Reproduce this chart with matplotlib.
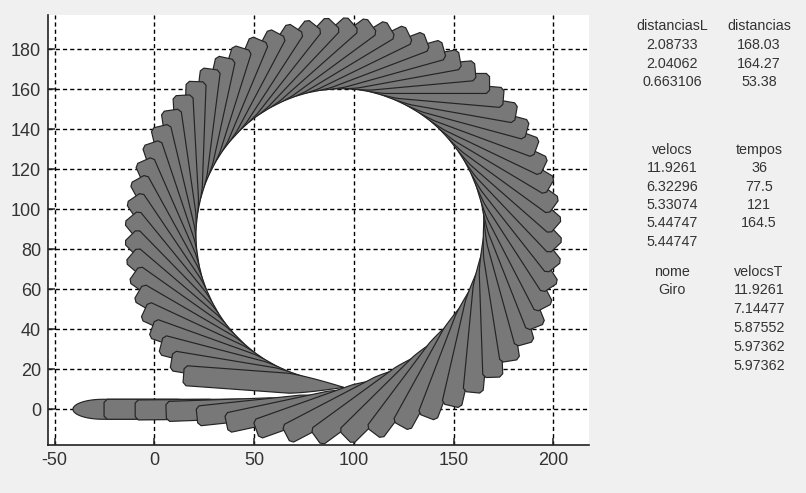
import numpy as np
import matplotlib
matplotlib.use("Agg")
import matplotlib.pyplot as plt
from matplotlib.patches import Polygon
from matplotlib.transforms import Affine2D

plt.rcParams["axes.unicode_minus"] = False

# ---- data: ship midship position and heading for each frame of the turn ----
frame_x = [-0.55, 15.05, 30.65, 46.15, 61.4, 75.5, 89.0, 101.8, 113.6, 124.6,
           134.4, 143.3, 151.2, 158.0, 163.6, 168.3, 172.0, 175.0, 176.6, 177.0,
           176.7, 175.6, 173.7, 171.1, 167.8, 163.8, 159.1, 153.8, 148.0, 141.7,
           134.9, 127.8, 120.8, 113.6, 106.3, 98.8, 91.3, 83.9, 76.5, 69.2,
           62.2, 55.4, 49.0, 42.9, 37.2, 32.0, 27.2, 23.1, 19.5, 16.5,
           14.1, 12.4, 11.4, 11.0, 11.3, 12.3, 13.9, 16.2, 19.1, 22.7,
           26.8, 31.5, 36.7, 42.3, 48.3, 54.8]
frame_y = [0, 0, 0, 0.3, 0.8, 1.5, 3.3, 5.9, 9.5, 14.2,
           20.2, 26.8, 33.6, 40.9, 48.5, 56.2, 63.9, 71.4, 78.5, 86.5,
           94.5, 102.4, 110.2, 117.7, 125.0, 132.0, 138.5, 144.5, 150.0, 154.9,
           159.2, 162.8, 165.6, 167.7, 169.1, 169.9, 170.0, 169.4, 168.1, 166.2,
           163.7, 160.5, 156.7, 152.4, 147.5, 142.1, 136.3, 130.1, 123.5, 116.7,
           109.6, 102.3, 94.9, 87.4, 79.9, 72.5, 65.2, 58.0, 51.2, 44.6,
           38.3, 32.4, 27.0, 22.1, 17.7, 13.9]
frame_heading = [0, 0, 0.5, 2, 6, 12, 19.5, 27.5, 36, 44.5,
                 53, 61, 69, 77, 84.5, 92, 99, 105.5, 111.6, 117.4,
                 123, 128.3, 133.6, 138.9, 144.1, 149.3, 154.5, 159.7, 164.9, 170,
                 175, 180, 185.2, 190.3, 195.5, 200.7, 205.9, 211, 216.2, 221.4,
                 226.5, 231.7, 236.9, 242, 247.2, 252.4, 257.6, 262.7, 267.9, 273.1,
                 278.2, 283.4, 288.6, 293.7, 298.9, 304.1, 309.3, 314.4, 319.6, 324.8,
                 329.9, 335.1, 340.3, 345.4, 350.6, 355.8]

ship_length = 80.5
ship_beam = 10.0

x_ticks = [-50, 0, 50, 100, 150, 200]
y_ticks = [0, 20, 40, 60, 80, 100, 120, 140, 160, 180]

# side panel tables
tab1_head = ["distanciasL", "distancias"]
distanciasL = ["2.08733", "2.04062", "0.663106"]
distancias = ["168.03", "164.27", "53.38"]
tab2_head = ["velocs", "tempos"]
velocs = ["11.9261", "6.32296", "5.33074", "5.44747", "5.44747"]
tempos = ["36", "77.5", "121", "164.5"]
tab3_head = ["nome", "velocsT"]
nome = ["Giro"]
velocsT = ["11.9261", "7.14477", "5.87552", "5.97362", "5.97362"]

# ---- hull outlines in ship coordinates (s along heading, n to port) ----
h = ship_length / 2
b = ship_beam / 2
bow_start = 12.0
s_bow = np.linspace(h, bow_start, 25)
n_bow = b * (1 - ((s_bow - bow_start) / (h - bow_start)) ** 1.3)


def make_hull(stern_s, stern_n):
    s = np.concatenate([s_bow, stern_s, s_bow[::-1][1:]])
    n = np.concatenate([n_bow, stern_n, -n_bow[::-1][1:]])
    return np.column_stack([s, n])


# blunt transom stern with small chamfered corners
ch = 1.6
st_s = np.array([-h + ch, -h, -h, -h + ch])
st_n = np.array([b, b - ch, -b + ch, -b])
hull_blunt = make_hull(st_s, st_n)

# rounded (elliptic) stern, as seen on the first frame
th = np.linspace(np.pi / 2, 3 * np.pi / 2, 25)
hull_round = make_hull((-h + 15) + 15 * np.cos(th), b * np.sin(th))

# ---- figure ----
W, H = 806, 493
fig = plt.figure(figsize=(W / 100, H / 100), dpi=100, facecolor="#f0f0f0")
ax = fig.add_axes([48 / W, 1 - 445 / H, (589 - 48) / W, (445 - 15) / H])
ax.set_facecolor("white")
ax.set_xlim(-53.3, 217.9)
ax.set_ylim(-17.85, 197)

for i, (x, y, hd) in enumerate(zip(frame_x, frame_y, frame_heading)):
    tr = Affine2D().rotate_deg(hd).translate(x, y) + ax.transData
    outline = hull_round if i == 0 else hull_blunt
    p = Polygon(outline, closed=True, transform=tr, facecolor="#787878",
                edgecolor="#242424", linewidth=0.85, joinstyle="miter",
                zorder=3 + i * 0.01)
    ax.add_patch(p)

ax.set_xticks(x_ticks)
ax.set_yticks(y_ticks)
ax.grid(True, color="black", linestyle=(0, (3, 2.2)), linewidth=1.0, zorder=1)
ax.set_axisbelow(True)
for side in ["top", "right"]:
    ax.spines[side].set_visible(False)
for side in ["left", "bottom"]:
    ax.spines[side].set_linewidth(1.2)
    ax.spines[side].set_color("#222222")
    ax.spines[side].set_zorder(5)
ax.tick_params(direction="in", length=5, width=1.1, colors="#222222",
               labelcolor="#333333", pad=5)
tick_font = ["Liberation Sans Narrow", "Liberation Sans", "DejaVu Sans"]
for lab in ax.get_xticklabels() + ax.get_yticklabels():
    lab.set_family(tick_font)
    lab.set_fontsize(13)

# ---- side panel ----
col1, col2 = 672, 759
txt_kw = dict(ha="center", va="center", fontsize=10.3, color="#333333",
              family=["Liberation Sans", "DejaVu Sans"])


def put(px, py, s):
    fig.text(px / W, 1 - py / H, s, **txt_kw)


def column(px, y0, dy, header, values):
    put(px, y0, header)
    for j, v in enumerate(values):
        put(px, y0 + dy * (j + 1), v)


column(col1, 26.5, 18.5, tab1_head[0], distanciasL)
column(col2, 26.5, 18.5, tab1_head[1], distancias)
column(col1, 150, 18.3, tab2_head[0], velocs)
column(col2, 150, 18.3, tab2_head[1], tempos)
column(col1, 271.5, 18.8, tab3_head[0], nome)
column(col2, 271.5, 18.8, tab3_head[1], velocsT)

fig.savefig("out.png", dpi=100, facecolor=fig.get_facecolor())
